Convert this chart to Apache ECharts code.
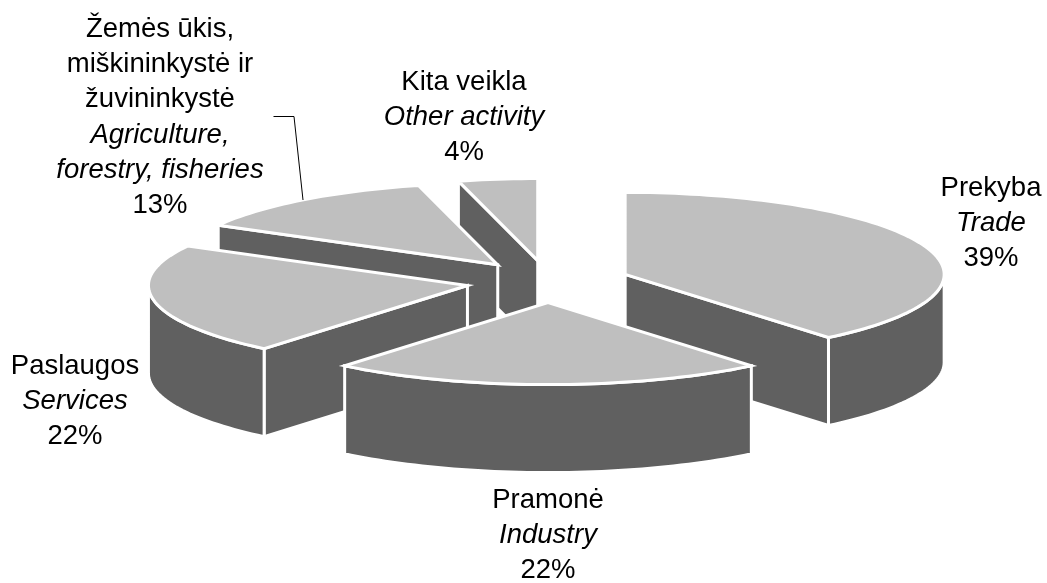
<!DOCTYPE html>
<html lang="lt">
<head>
    <meta charset="utf-8">
    <script src="https://cdn.jsdelivr.net/npm/echarts@6/dist/echarts.min.js"></script>
    <title></title>
    <style>html, body { margin: 0; background: #fff; }</style>
</head>
<body>
<div id="main" style="width: 1047px;height:583px;"></div>
<script type="text/javascript">
    // values go clockwise from 12 o'clock
    var namesLt = [['Prekyba'], ['Pramonė'], ['Paslaugos'], ['Žemės ūkis,', 'miškininkystė ir', 'žuvininkystė'], ['Kita veikla']];
    var namesEn = [['Trade'], ['Industry'], ['Services'], ['Agriculture,', 'forestry, fisheries'], ['Other activity']];
    var values = [39, 22, 22, 13, 4];

    // back slices first so the front ones cover them
    var paintOrder = [4, 3, 0, 2, 1];

    var center = [548, 281.5];
    var rx = 319, ry = 82, depth = 88, explode = 82;
    var labelCenterX = [991, 548, 75, 160, 464];
    var labelFirstY = [188, 500, 366, 29, 82];
    var lineGap = 35.3;
    var topColor = '#bfbfbf', sideColor = '#606060';

    var total = values.reduce(function (a, b) { return a + b; }, 0);
    var myChart = echarts.init(document.getElementById('main'));

    function polar(c, deg) {
        var t = deg * Math.PI / 180;
        return [c[0] + rx * Math.sin(t), c[1] - ry * Math.cos(t)];
    }
    function down(p) {
        return [p[0], p[1] + depth];
    }
    function arc(c, from, to) {
        var pts = [];
        var n = Math.max(2, Math.ceil((to - from) / 1.5));
        for (var i = 0; i <= n; i++) pts.push(polar(c, from + (to - from) * i / n));
        return pts;
    }
    function face(points, color, width) {
        return {
            type: 'polygon',
            shape: {points: points},
            style: {fill: color, stroke: '#fff', lineWidth: width, lineJoin: 'miter'}
        };
    }
    function textLine(str, x, y, italic) {
        return {
            type: 'text',
            style: {
                text: str, x: x, y: y, align: 'center', verticalAlign: 'middle',
                fontFamily: 'Liberation Sans', fontSize: 27.5, fontStyle: italic ? 'italic' : 'normal', fill: '#000'
            }
        };
    }

    function renderSlice(params, api) {
        var idx = api.value(0);
        var before = 0;
        for (var i = 0; i < idx; i++) before += values[i];
        var a0 = before / total * 360;
        var a1 = (before + values[idx]) / total * 360;
        var mid = (a0 + a1) / 2 * Math.PI / 180;
        var c = [center[0] + explode * Math.sin(mid), center[1] - explode * ry / rx * Math.cos(mid)];
        var start = polar(c, a0), end = polar(c, a1);
        var children = [];

        // radial walls, only the ones turned to the viewer
        if (Math.sin(a0 * Math.PI / 180) < -1e-6) {
            children.push(face([c, start, down(start), down(c)], sideColor, 3));
        }
        if (Math.sin(a1 * Math.PI / 180) > 1e-6) {
            children.push(face([c, end, down(end), down(c)], sideColor, 3));
        }
        // outer wall, the front half of the rim
        var w0 = Math.max(a0, 90), w1 = Math.min(a1, 270);
        if (w1 > w0) {
            var rim = arc(c, w0, w1);
            children.push(face(rim.concat(rim.map(down).reverse()), sideColor, 3));
        }
        children.push(face([c].concat(arc(c, a0, a1)), topColor, 3));

        // the one leader line in the chart
        if (idx === 3) {
            children.push({
                type: 'polyline',
                shape: {points: [[273.5, 116.5], [294, 116.5], [303, 200]]},
                style: {fill: null, stroke: '#000', lineWidth: 1}
            });
        }

        var y = labelFirstY[idx], x = labelCenterX[idx];
        namesLt[idx].forEach(function (s) { children.push(textLine(s, x, y, false)); y += lineGap; });
        namesEn[idx].forEach(function (s) { children.push(textLine(s, x, y, true)); y += lineGap; });
        children.push(textLine(values[idx] + '%', x, y, false));

        return {type: 'group', children: children};
    }

    var option = {
        animation: false,
        series: [{
            type: 'custom',
            coordinateSystem: 'none',
            renderItem: renderSlice,
            data: paintOrder.map(function (i) { return [i, values[i]]; }),
            silent: true
        }]
    };
    myChart.setOption(option);
</script>
</body>
</html>
